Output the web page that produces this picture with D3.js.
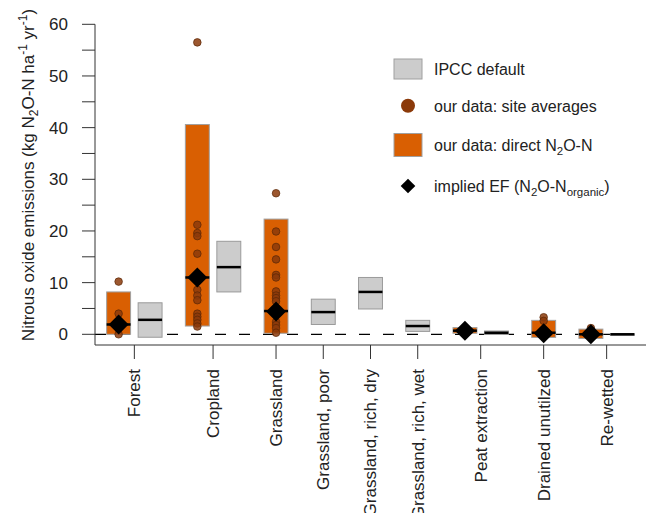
<!DOCTYPE html>
<html><head><meta charset="utf-8">
<script src="https://cdn.jsdelivr.net/npm/d3@7"></script>
<style>
html,body{margin:0;padding:0;background:#fff;}
svg{display:block;font-family:"Liberation Sans",Arial,sans-serif;}
</style></head>
<body><svg id="chart" width="646" height="513"></svg>
<script>
// ---- data ----
const categories = ["Forest","Cropland","Grassland","Grassland, poor","Grassland, rich, dry","Grassland, rich, wet","Peat extraction","Drained unutilzed","Re-wetted"];
// IPCC default (low, median, high)
const ipccLow  = [-0.57, 8.2, null, 1.9, 4.9, 0.56, -0.03, null, -0.1];
const ipccMid  = [2.8, 13, null, 4.3, 8.2, 1.6, 0.3, null, 0];
const ipccHigh = [6.1, 18, null, 6.8, 11, 2.7, 0.64, null, 0.1];
// our data: direct N2O-N (low, median, high)
const ourLow  = [0, 1.6, 0.2, null, null, null, 0.2, -0.6, -0.8];
const ourMid  = [1.9, 11.0, 4.5, null, null, null, 0.7, 0.3, 0.0];
const ourHigh = [8.2, 40.6, 22.3, null, null, null, 1.3, 2.7, 1.0];
// implied EF (N2O-N organic)
const impliedEF = [1.9, 11.0, 4.4, null, null, null, 0.7, 0.2, 0.0];
// site averages
const sitePoints = [
  [10.2, 4.0, 1.2, 0.0],
  [56.5, 21.2, 19.6, 19.0, 15.6, 8.6, 7.5, 6.6, 4.0, 3.4, 2.8, 2.1, 1.5],
  [27.3, 19.9, 16.9, 14.5, 11.5, 11.0, 8.3, 7.5, 7.0, 6.4, 5.0, 2.4, 1.8, 1.2, 0.3],
  [], [], [],
  [0.8],
  [3.3, 2.6],
  [1.2]
];
const yTicks = [0, 10, 20, 30, 40, 50, 60];
const yMinorTicks = [5, 15, 25, 35, 45, 55];
const legendLabels = ["IPCC default", "our data: site averages", "our data: direct N2O-N", "implied EF (N2O-Norganic)"];

// ---- layout (category slot positions on a linear axis) ----
const catSlot = [0.5, 3, 5, 6.5, 8, 9.5, 11.5, 13.5, 15.5];

const ORANGE = "#D95F02", GREY = "#CCCCCC", BROWN = "#8B3A0A";

const svg = d3.select("#chart");
const x = d3.scaleLinear().domain([-0.75, 16.75]).range([95, 646]);
const y = d3.scaleLinear().domain([0, 60]).range([334.3, 24.3]);
const barW = x(0.76) - x(0);

function ourPos(i){ return ipccMid[i] != null ? catSlot[i] - 0.5 : catSlot[i]; }
function ipccPos(i){ return ourMid[i] != null ? catSlot[i] + 0.5 : catSlot[i]; }

// zero dashed line
svg.append("line").attr("x1", x(-0.75)).attr("x2", x(16.75))
  .attr("y1", y(0)).attr("y2", y(0))
  .attr("stroke", "#000").attr("stroke-width", 1.3).attr("stroke-dasharray", "11,13");

const idx = d3.range(categories.length);

// IPCC bars
const ipccIdx = idx.filter(i => ipccMid[i] != null);
svg.append("g").selectAll("rect").data(ipccIdx).join("rect")
  .attr("x", i => x(ipccPos(i)) - barW/2).attr("width", barW)
  .attr("y", i => y(ipccHigh[i])).attr("height", i => Math.max(1.5, y(ipccLow[i]) - y(ipccHigh[i])))
  .attr("fill", GREY).attr("stroke", "#9a9a9a").attr("stroke-width", 1);
svg.append("g").selectAll("line").data(ipccIdx).join("line")
  .attr("x1", i => x(ipccPos(i)) - barW/2).attr("x2", i => x(ipccPos(i)) + barW/2)
  .attr("y1", i => y(ipccMid[i])).attr("y2", i => y(ipccMid[i]))
  .attr("stroke", "#000").attr("stroke-width", 2.5);

// our bars
const ourIdx = idx.filter(i => ourMid[i] != null);
svg.append("g").selectAll("rect").data(ourIdx).join("rect")
  .attr("x", i => x(ourPos(i)) - barW/2).attr("width", barW)
  .attr("y", i => y(ourHigh[i])).attr("height", i => y(ourLow[i]) - y(ourHigh[i]))
  .attr("fill", ORANGE).attr("stroke", "#a0a0a0").attr("stroke-width", 1);
svg.append("g").selectAll("line").data(ourIdx).join("line")
  .attr("x1", i => x(ourPos(i)) - barW/2).attr("x2", i => x(ourPos(i)) + barW/2)
  .attr("y1", i => y(ourMid[i])).attr("y2", i => y(ourMid[i]))
  .attr("stroke", "#000").attr("stroke-width", 2.5);

// site points
const pts = [];
idx.forEach(i => sitePoints[i].forEach(v => pts.push({i, v})));
svg.append("g").selectAll("circle").data(pts).join("circle")
  .attr("cx", d => x(ourPos(d.i))).attr("cy", d => y(d.v)).attr("r", 3.8)
  .attr("fill", BROWN).attr("fill-opacity", 0.85).attr("stroke", "#5a2606").attr("stroke-width", 0.7);

// implied EF diamonds
function diamond(cx, cy, r){ return `M${cx},${cy-r}L${cx+r},${cy}L${cx},${cy+r}L${cx-r},${cy}Z`; }
const efIdx = idx.filter(i => impliedEF[i] != null);
svg.append("g").selectAll("path").data(efIdx).join("path")
  .attr("d", i => diamond(x(ourPos(i)), y(impliedEF[i]), 10))
  .attr("fill", "#000");

// axes
const gy = svg.append("g").attr("transform", `translate(${x(-0.75)},0)`);
gy.append("line").attr("x1", 0).attr("x2", 0).attr("y1", y(60)).attr("y2", 345).attr("stroke", "#333");
gy.selectAll("line.mj").data(yTicks.concat(yMinorTicks)).join("line").attr("class", "mj")
  .attr("x1", -13).attr("x2", 0).attr("y1", d => y(d)).attr("y2", d => y(d)).attr("stroke", "#333");
gy.selectAll("text").data(yTicks).join("text")
  .attr("x", -27).attr("y", d => y(d)).attr("dy", "0.35em")
  .attr("text-anchor", "end").attr("font-size", 17).attr("fill", "#222").text(d => d);

const gx = svg.append("g");
gx.append("line").attr("x1", x(-0.75)).attr("x2", x(16.75)).attr("y1", 345).attr("y2", 345).attr("stroke", "#333");
gx.selectAll("line.t").data(idx).join("line").attr("class", "t")
  .attr("x1", i => x(catSlot[i])).attr("x2", i => x(catSlot[i]))
  .attr("y1", 345).attr("y2", 359).attr("stroke", "#333");
gx.selectAll("text").data(idx).join("text")
  .attr("transform", i => `translate(${x(catSlot[i])},369) rotate(-90)`)
  .attr("dy", "0.35em").attr("text-anchor", "end").attr("font-size", 17).attr("fill", "#222")
  .text(i => categories[i]);

// y title
const yt = svg.append("text").attr("transform", "translate(34,175) rotate(-90)")
  .attr("text-anchor", "middle").attr("font-size", 17).attr("fill", "#222");
yt.append("tspan").text("Nitrous oxide emissions (kg N");
yt.append("tspan").attr("font-size", 12).attr("dy", 4).text("2");
yt.append("tspan").attr("dy", -4).text("O-N ha");
yt.append("tspan").attr("font-size", 12).attr("dy", -7).text("-1");
yt.append("tspan").attr("dy", 7).text(" yr");
yt.append("tspan").attr("font-size", 12).attr("dy", -7).text("-1");
yt.append("tspan").attr("dy", 7).text(")");

// legend
const lg = svg.append("g");
const lx = 408, tx = 434;
const rows = [69, 105.7, 145, 186];
lg.append("rect").attr("x", lx - 14).attr("y", rows[0] - 10).attr("width", 28).attr("height", 20)
  .attr("fill", GREY).attr("stroke", "#a0a0a0");
lg.append("circle").attr("cx", lx).attr("cy", rows[1]).attr("r", 7).attr("fill", BROWN);
lg.append("rect").attr("x", lx - 14).attr("y", rows[2] - 11.5).attr("width", 28).attr("height", 23)
  .attr("fill", ORANGE).attr("stroke", "#a0a0a0");
lg.append("path").attr("d", diamond(lx, rows[3], 7.3)).attr("fill", "#000");

const fs = 16;
function legText(row){ return lg.append("text").attr("x", tx).attr("y", row + 5.8).attr("font-size", fs).attr("fill", "#222"); }
legText(rows[0]).text(legendLabels[0]);
legText(rows[1]).text(legendLabels[1]);
const t3 = legText(rows[2]);
t3.append("tspan").text("our data: direct N");
t3.append("tspan").attr("font-size", 11.5).attr("dy", 4).text("2");
t3.append("tspan").attr("dy", -4).text("O-N");
const t4 = legText(rows[3]);
t4.append("tspan").text("implied EF (N");
t4.append("tspan").attr("font-size", 11.5).attr("dy", 4).text("2");
t4.append("tspan").attr("dy", -4).text("O-N");
t4.append("tspan").attr("font-size", 11.5).attr("dy", 4).text("organic");
t4.append("tspan").attr("dy", -4).text(")");
</script></body></html>
